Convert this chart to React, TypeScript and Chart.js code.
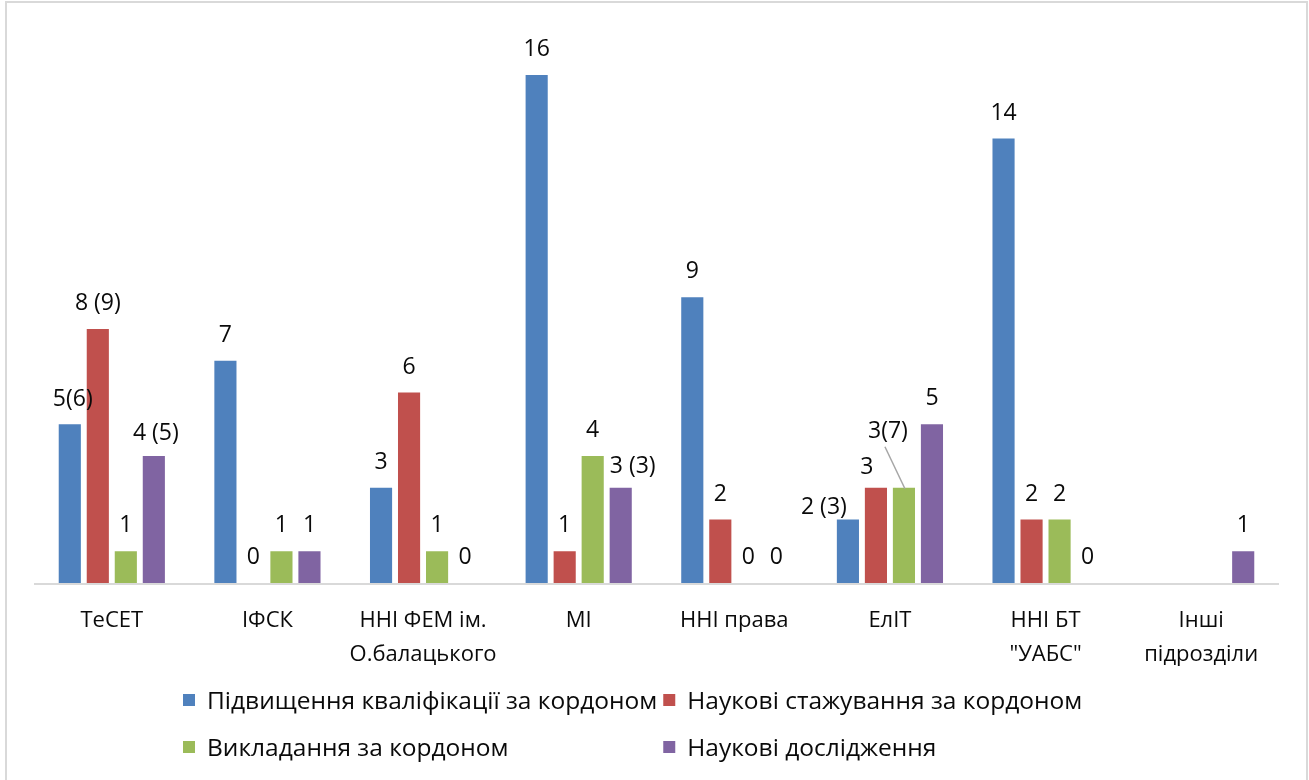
import React, { useEffect, useRef } from "react";
import { Chart, registerables } from "chart.js";

Chart.register(...registerables);

const categories: string[][] = [
  ["ТеСЕТ"],
  ["ІФСК"],
  ["ННІ ФЕМ ім.", "О.балацького"],
  ["МІ"],
  ["ННІ права"],
  ["ЕлІТ"],
  ["ННІ БТ", "\"УАБС\""],
  ["Інші", "підрозділи"],
];

const seriesNames = [
  "Підвищення кваліфікації за кордоном",
  "Наукові стажування за кордоном",
  "Викладання за кордоном",
  "Наукові дослідження",
];

const qualification = [5, 7, 3, 16, 9, 2, 14, 0];
const internships = [8, 0, 6, 1, 2, 3, 2, 0];
const teaching = [1, 1, 1, 4, 0, 3, 2, 0];
const research = [4, 1, 0, 3, 0, 5, 0, 1];

const qualificationLabels = ["5(6)", "7", "3", "16", "9", "2 (3)", "14", ""];
const internshipsLabels = ["8 (9)", "0", "6", "1", "2", "3", "2", ""];
const teachingLabels = ["1", "1", "1", "4", "0", "3(7)", "2", ""];
const researchLabels = ["4 (5)", "1", "0", "3 (3)", "0", "5", "0", "1"];

const COLORS = ["#4F81BD", "#C0504D", "#9BBB59", "#8064A2"];
const FONT = "'Open Sans', 'Noto Sans', sans-serif";
const TEXT_COLOR = "#0a0a0a";

// label nudges [dx, dy] relative to default position (dataset-index)
const NUDGE: Record<string, [number, number]> = {
  "0-0": [3, 1],
  "3-0": [2, 3],
  "0-5": [-24, 13],
  "1-5": [-9, 5],
  "2-5": [-16, -31],
  "3-3": [12, 4],
};
const LEADER = new Set(["2-5"]);

const allLabels = [qualificationLabels, internshipsLabels, teachingLabels, researchLabels];

const drawPlugin = {
  id: "customDraw",
  afterDatasetsDraw(chart: any) {
    const ctx: CanvasRenderingContext2D = chart.ctx;
    const area = chart.chartArea;
    const xs = chart.scales.x;
    const ys = chart.scales.y;
    ctx.save();
    // baseline
    ctx.strokeStyle = "#d9d9d9";
    ctx.lineWidth = 2;
    ctx.beginPath();
    const y0 = ys.getPixelForValue(0);
    ctx.moveTo(area.left, y0 + 1);
    ctx.lineTo(area.right, y0 + 1);
    ctx.stroke();

    // data labels
    ctx.font = `23px ${FONT}`;
    ctx.fillStyle = TEXT_COLOR;
    ctx.textAlign = "center";
    ctx.textBaseline = "alphabetic";
    chart.data.datasets.forEach((_ds: any, di: number) => {
      const meta = chart.getDatasetMeta(di);
      meta.data.forEach((bar: any, i: number) => {
        const txt = allLabels[di][i];
        if (!txt) return;
        const key = `${di}-${i}`;
        const n = NUDGE[key] || [0, 0];
        const lx = bar.x + n[0];
        const ly = bar.y - 19 + n[1];
        ctx.fillText(txt, lx, ly);
        if (LEADER.has(key)) {
          ctx.save();
          ctx.strokeStyle = "#a6a6a6";
          ctx.lineWidth = 1.5;
          ctx.beginPath();
          ctx.moveTo(lx - 3, ly + 9);
          ctx.lineTo(bar.x + 1, bar.y + 1);
          ctx.stroke();
          ctx.restore();
        }
      });
    });

    // category labels
    ctx.font = `22px ${FONT}`;
    categories.forEach((lines, i) => {
      const x = xs.getPixelForValue(i);
      lines.forEach((line, li) => {
        ctx.fillText(line, x, y0 + 44 + li * 34);
      });
    });

    // legend
    ctx.font = `24.5px ${FONT}`;
    ctx.textAlign = "left";
    const col1 = 183;
    const w0 = Math.max(ctx.measureText(seriesNames[0]).width, ctx.measureText(seriesNames[2]).width);
    const col2 = col1 + 24 + w0 + 6;
    const rows = [700, 747];
    seriesNames.forEach((name, k) => {
      const cx = k % 2 === 0 ? col1 : col2;
      const cy = rows[Math.floor(k / 2)];
      ctx.fillStyle = COLORS[k];
      ctx.fillRect(cx, cy - 6, 12, 12);
      ctx.fillStyle = TEXT_COLOR;
      ctx.fillText(name, cx + 24, cy + 9);
    });
    ctx.restore();
  },
};

export default function App() {
  const ref = useRef<HTMLCanvasElement | null>(null);
  useEffect(() => {
    if (!ref.current) return;
    const chart = new Chart(ref.current, {
      type: "bar",
      data: {
        labels: categories.map((c) => c.join(" ")),
        datasets: [qualification, internships, teaching, research].map((d, k) => ({
          label: seriesNames[k],
          data: d,
          backgroundColor: COLORS[k],
          borderWidth: 0,
          categoryPercentage: 0.72,
          barPercentage: 0.79,
        })),
      },
      options: {
        responsive: false,
        animation: false,
        devicePixelRatio: 1,
        layout: { padding: { left: 34, right: 30, top: 11.5, bottom: 197 } },
        plugins: { legend: { display: false }, tooltip: { enabled: false } },
        scales: {
          x: { display: false },
          y: { display: false, min: 0, max: 18 },
        },
      },
      plugins: [drawPlugin],
    });
    return () => chart.destroy();
  }, []);
  return (
    <div style={{ position: "fixed", left: 0, top: 0, width: 1309, height: 780, overflow: "hidden", background: "#fff" }}>
      <canvas ref={ref} width={1309} height={780} style={{ position: "absolute", left: 0, top: 0, width: 1309, height: 780 }} />
      <div
        style={{
          position: "absolute",
          left: 5,
          top: 1,
          width: 1299,
          height: 820,
          border: "2px solid #d9d9d9",
          pointerEvents: "none",
        }}
      />
    </div>
  );
}
